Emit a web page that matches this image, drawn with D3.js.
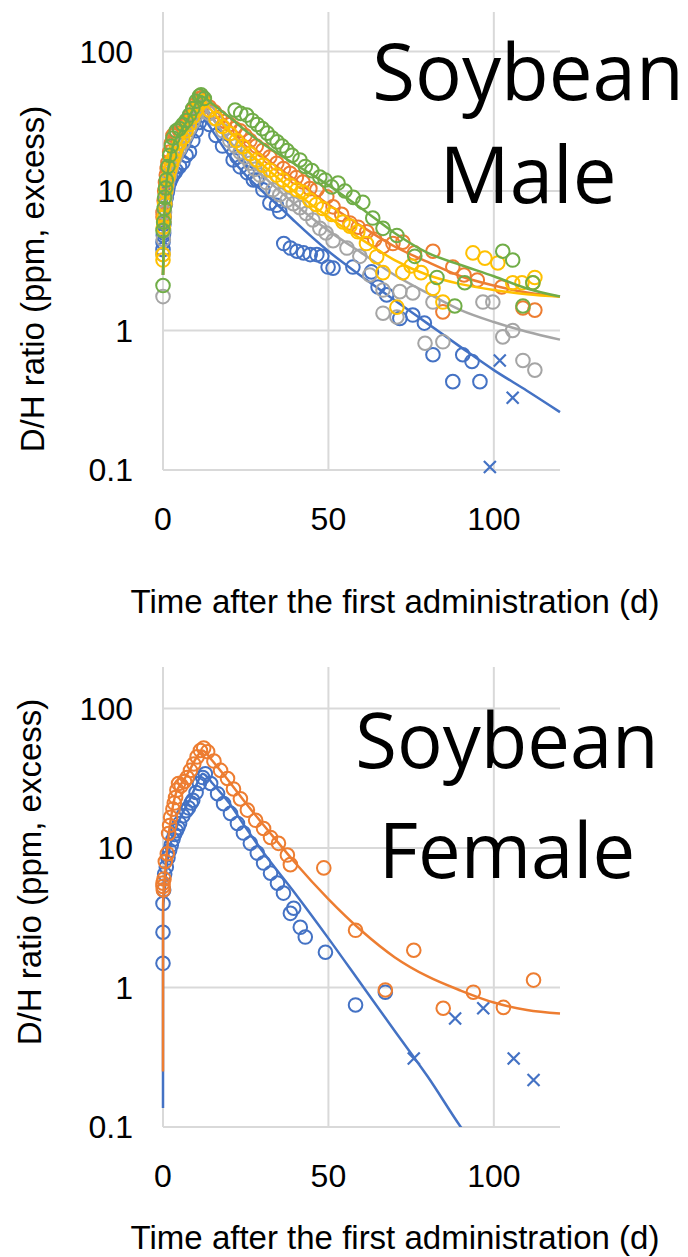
<!DOCTYPE html>
<html lang="en">
<head>
<meta charset="utf-8">
<title>D/H ratio after administration - Soybean</title>
<script src="https://d3js.org/d3.v7.min.js"></script>
<style>
  body { margin: 0; background: #fff; }
  .tick-label { font-family: "Liberation Sans", Arial, sans-serif; font-size: 32px; fill: #000; }
  .axis-title { font-family: "Liberation Sans", Arial, sans-serif; font-size: 33px; fill: #000; }
  .panel-title { font-family: "Open Sans", sans-serif; fill: #000; }
  .grid { stroke: #d9d9d9; stroke-width: 2; }
</style>
</head>
<body>
<div id="vis"></div>
<script>
// ---- data ----
const xTicks = [0, 50, 100];
const yTicks = [0.1, 1, 10, 100];
const xTitle = "Time after the first administration (d)";
const yTitle = "D/H ratio (ppm, excess)";

// Soybean, male: measured points [day, ppm]
const maleBluePoints = [[0,3.8],[0,4.3],[0.1,4.8],[0.2,5.0],[0.3,5.8],[0.4,6.5],[0.7,8],[1,9],[1.3,9.8],[1.5,10.5],[2,11.5],[2.5,12.3],[3,13],[3.5,13.5],[4,14],[5,15],[6,16],[7,18],[8,19],[9,23],[10,27],[11,31],[12,35],
  [14,30],[16,25],[18,21],[21.2,16.7],[22.4,17.5],[23.3,14.9],[25.5,13.5],[27.3,12],[28.4,12],[30.2,10.2],[32.3,8.2],[34.3,7.9],[35.3,7.1],
  [36.5,4.2],[38.5,3.9],[40.5,3.7],[42.5,3.6],[44.5,3.5],[46.5,3.5],[48,3.4],[49.9,2.85],[51.4,2.8],[57.4,2.85],[63,2.63],[65,2.05],[67.6,1.8],
  [71.6,1.22],[75.5,1.29],[79,1.13],[81.6,0.67],[87.6,0.43],[90.6,0.67],[93.4,0.6],[95.8,0.43]];
const maleBlueCrosses = [[98.8,0.105],[101.8,0.61],[105.7,0.33]];
const maleOrangePoints = [[0,6.5],[0,7],[0.2,6.8],[0.35,8.5],[0.5,10],[0.75,11.5],[1,13],[1.25,14.5],[1.5,16],[2,19],[2.5,22],[3,25],[3.5,25.5],[4,26],[5,27],[6,29],[7,31],[8,34],[9,38],[10,42],[11,46],[12,47],
  [14,40],[15.5,37],[17.2,33.8],[18.7,31.5],[20.2,30],[21.7,28],[23.3,27],[24.8,25],[26.3,23],[28.2,21],[30.2,19.6],[32.3,17.5],[34.4,15.8],[36.4,14.5],
  [38.4,13.4],[40.3,12.5],[42.3,11.6],[44.4,10.4],[46.5,10.2],[49.5,9.1],[51.4,7.7],[54,6.8],[56.5,5.9],[59,5.5],[61.6,5.1],[64,4.5],[66.5,4.0],
  [69.5,4.2],[72.5,4.3],[76,3.6],[81.6,3.7],[84.6,1.36],[87.6,2.85],[91,2.5],[95,2.3],[102.4,2.05],[108.8,1.45],[112.4,1.4]];
const maleGrayPoints = [[0,1.75],[0,3.5],[0.1,4.5],[0.2,5.2],[0.3,6],[0.45,7],[0.6,8],[0.8,9],[1,10],[1.25,11],[1.5,12],[2,13],[2.5,14.5],[3,16],[3.5,17],[4,18],[5,20],[6,22],[7,25],[8,28],[9,31],[10,35],[11,38],[12,40],
  [14,36],[15.7,33],[18.1,27],[20.2,23],[21.8,21],[23.3,19],[24.8,17.5],[26.3,15.8],[27.8,14.3],[29.3,13],[31.2,11.5],[33.2,10.2],[35.3,9.4],[37.5,8.6],
  [39.4,8.1],[41.4,7.6],[43.3,6.9],[45.3,6.2],[47.4,5.4],[49.3,5.0],[51.4,4.4],[55.6,3.9],[59.5,3.4],[62.5,2.5],[66.5,1.95],[66.5,1.33],[70.7,1.25],
  [71.6,1.9],[75.5,1.86],[79.2,0.81],[81.6,1.6],[84.6,0.83],[96.7,1.6],[99.7,1.6],[102.7,0.9],[105.7,1.0],[108.8,0.61],[112.4,0.52]];
const maleYellowPoints = [[0,3.2],[0,3.5],[0.1,5.5],[0.2,6],[0.3,6.5],[0.5,8],[0.8,10],[1,11],[1.5,12.5],[2,14],[2.5,15.5],[3,17],[3.5,18.5],[4,20],[5,22],[6,24],[7,27],[8,30],[9,34],[10,38],[11,42],[12,44],
  [14,38],[16,33],[18,29],[20.2,25.8],[22.2,23],[24.2,20.8],[26.3,18.5],[28.4,16.7],[30.3,15.3],[32.3,14.1],[34.3,13],[36.3,12],[38.4,11],[40.5,10.2],
  [42.3,9.8],[44.4,8.6],[46.3,8],[48.3,7.5],[51,6.8],[54.4,6.0],[56.5,5.6],[58.9,5.1],[61.5,4.2],[64.6,3.38],[66.5,2.6],[70.7,1.47],[72.5,2.6],[75,2.9],
  [78,2.6],[81.6,2.0],[84.6,1.6],[93.7,3.6],[97.3,3.3],[101.2,3.05],[105.7,2.2],[108.5,2.2],[111.8,2.2],[112.4,2.4]];
const maleGreenPoints = [[0,2.1],[0,5.2],[0.2,6],[0.35,7.5],[0.5,9],[0.75,10.5],[1,12],[1.5,15],[2,18],[2.5,21],[3,24],[4,27],[5,28],[6,30],[7,32],[8,35],[9,39],[10,44],[11,48],[11.5,49],[12.5,46],
  [21.8,38],[23.5,36],[25.3,35],[27,32],[28.5,30],[30,28],[31.5,26],[33,24],[34.5,22.5],[36,21],[37.5,19.5],[39,18],[41.4,16.7],[43,15],[45,14],
  [47.4,12.6],[49,12],[51,10.7],[52.9,11.4],[55,10],[57.5,9],[60.4,8.3],[63.4,6.4],[66.5,5.4],[70.7,4.8],[76.1,3.4],[82.8,2.4],[88.2,1.5],[91.2,2.2],
  [102.7,3.7],[105.7,3.2],[108.8,1.5],[111.8,2.2]];

// Soybean, male: fitted curves [day, ppm]
const maleBlueFit = [[0,2.5],[0.3,4],[1,8],[2,11],[3,13],[5,16],[7,19],[9,24],[11,30],[12,35],[13,32],[15,27],[20,18],[25,13],[30,10],[35,7.8],[40,6.0],
  [50,3.7],[60,2.45],[70,1.65],[80,1.12],[90,0.76],[100,0.52],[110,0.37],[120,0.26]];
const maleOrangeFit = [[0,2.5],[0.3,6],[1,12],[2,17],[3,21],[5,25],[7,29],[9,35],[11,43],[12,47],[13,45],[15,40],[20,30],[25,23],[30,18],[40,12],
  [50,8],[60,5.6],[70,4.0],[80,3.1],[90,2.45],[100,2.1],[110,1.87],[120,1.75]];
const maleGrayFit = [[0,2.5],[0.3,4.5],[1,9],[2,12.5],[3,15],[5,19],[7,23],[9,28],[11,35],[12,40],[13,38],[15,33],[20,23],[25,17],[30,13],[40,8],
  [50,5.2],[60,3.6],[70,2.5],[80,1.85],[90,1.4],[100,1.15],[110,0.98],[120,0.86]];
const maleYellowFit = [[0,2.5],[0.3,5],[1,10],[2,14],[3,17],[5,21],[7,26],[9,32],[11,39],[12,44],[13,42],[15,37],[20,27],[25,20],[30,15.5],[40,9.8],
  [50,6.5],[60,4.5],[70,3.2],[80,2.5],[90,2.15],[100,1.95],[110,1.82],[120,1.75]];
const maleGreenFit = [[0,2.5],[0.3,5.5],[1,11],[2,16],[3,21],[5,26],[7,31],[9,38],[11,47],[11.5,48],[13,46],[15,42],[20,34],[25,27],[30,22],[40,15.5],
  [50,11],[60,7.5],[70,5.0],[80,3.6],[90,2.95],[100,2.45],[110,2.0],[120,1.75]];

// Soybean, female
const femaleBluePoints = [[0,1.49],[0,2.49],[0,4.0],[0.2,5],[0.5,6.5],[1,7.3],[1.5,8.5],[2,9.6],[2.5,10.5],[3,11.5],[3.5,12.5],[4,13.3],[4.5,14],[5,15],[6,17],[7,18.5],[7.7,19.4],[8.5,21],[9,22],[10,25],[11,29],[12,32],[12.8,34],
  [14.4,29],[16.5,24.5],[18.3,20.8],[20.4,17.7],[22.5,15],[24.3,12.8],[26.4,10.8],[28.5,9.2],[30.4,7.8],[32.5,6.6],[34.6,5.6],[36.4,4.75],[38.5,3.4],
  [39.5,3.7],[41.5,2.7],[43,2.3],[49.1,1.79],[58.2,0.75],[67.2,0.925]];
const femaleBlueCrosses = [[75.8,0.31],[88.3,0.6],[96.8,0.71],[106,0.31],[112,0.217]];
const femaleOrangePoints = [[0,5.3],[0,5.6],[0.1,5],[0.3,6],[0.7,8],[1.3,9.1],[1.7,12.7],[2,14.5],[2.3,16.6],[3,19],[3.4,21],[3.8,23],[4.2,26],[4.7,29],[5.5,28],[6.5,30],[7.3,32],[8.3,36],[9.3,40],[10.3,45],[11.3,50],[12.3,52],[13.5,49],
  [15.4,42],[17.4,36],[19.5,31.5],[21.3,26.5],[23.4,22.5],[25.5,18.7],[28,15.8],[30.4,13.8],[32.5,11.9],[34.9,10.8],[37.6,8.9],[38.5,7.6],
  [48.6,7.2],[58.2,2.57],[67.2,0.96],[75.8,1.85],[84.7,0.71],[93.8,0.925],[102.9,0.72],[112,1.13]];
const femaleBlueFit = [[0,0.137],[0.02,3.5],[0.5,5],[1,7],[2,10],[4,14],[6,18],[8,22],[10,28],[12,34],[13,33],[15,29],[20,21],[25,14],[30,9.5],
  [40,4.7],[50,2.25],[60,1.05],[70,0.49],[80,0.23],[90,0.1],[95,0.068]];
const femaleOrangeFit = [[0,0.25],[0.02,4],[0.5,6],[1,8.5],[2,14],[3,20],[4,25],[6,30],[8,36],[10,44],[12,50],[13,48],[15,42],[20,30],[25,21],[30,15],
  [35,10.8],[40,7.8],[50,4.3],[60,2.55],[70,1.65],[80,1.2],[90,0.95],[100,0.78],[110,0.69],[120,0.65]];

// ---- drawing ----
const width = 688, height = 1257;
const colors = { blue: "#4472C4", orange: "#ED7D31", gray: "#A5A5A5", yellow: "#FFC000", green: "#70AD47" };

const svg = d3.select("#vis").append("svg")
  .attr("width", width).attr("height", height)
  .style("display", "block");

const panels = [
  { id: "male", axisY: 470, gridTop: 12, yTitleMid: 279, yTitleX: 44, xTitleY: 613,
    title: ["Soybean", "Male"], titleX: 528, titleY: [100, 203], titleSize: 78,
    series: [
      { color: colors.blue, points: maleBluePoints, fit: maleBlueFit, crosses: maleBlueCrosses },
      { color: colors.orange, points: maleOrangePoints, fit: maleOrangeFit },
      { color: colors.gray, points: maleGrayPoints, fit: maleGrayFit },
      { color: colors.yellow, points: maleYellowPoints, fit: maleYellowFit },
      { color: colors.green, points: maleGreenPoints, fit: maleGreenFit }
    ] },
  { id: "female", axisY: 1127, gridTop: 667, yTitleMid: 872, yTitleX: 41, xTitleY: 1249,
    title: ["Soybean", "Female"], titleX: 507, titleY: [768, 878], titleSize: 76,
    series: [
      { color: colors.blue, points: femaleBluePoints, fit: femaleBlueFit, crosses: femaleBlueCrosses },
      { color: colors.orange, points: femaleOrangePoints, fit: femaleOrangeFit }
    ] }
];

panels.forEach(p => {
  const xScale = d3.scaleLinear().domain([0, 120]).range([163, 560]);
  const yScale = d3.scaleLog().domain([0.1, 100]).range([p.axisY, p.axisY - 418.5]);
  const g = svg.append("g");

  // gridlines
  g.selectAll(".hgrid").data(yTicks).enter().append("line")
    .attr("class", "grid")
    .attr("x1", xScale(0)).attr("x2", xScale(120))
    .attr("y1", d => yScale(d)).attr("y2", d => yScale(d));
  g.selectAll(".vgrid").data(xTicks).enter().append("line")
    .attr("class", "grid")
    .attr("x1", d => xScale(d)).attr("x2", d => xScale(d))
    .attr("y1", p.gridTop).attr("y2", yScale(0.1));

  // tick labels
  g.selectAll(".ytick").data(yTicks).enter().append("text")
    .attr("class", "tick-label")
    .attr("x", 133).attr("y", d => yScale(d) + 11)
    .attr("text-anchor", "end")
    .text(d => d);
  g.selectAll(".xtick").data(xTicks).enter().append("text")
    .attr("class", "tick-label")
    .attr("x", d => xScale(d)).attr("y", p.axisY + 60)
    .attr("text-anchor", "middle")
    .text(d => d);

  // axis titles
  g.append("text")
    .attr("class", "axis-title")
    .attr("x", 395).attr("y", p.xTitleY)
    .attr("text-anchor", "middle")
    .text(xTitle);
  g.append("text")
    .attr("class", "axis-title")
    .attr("transform", "translate(" + p.yTitleX + "," + p.yTitleMid + ") rotate(-90)")
    .attr("text-anchor", "middle")
    .text(yTitle);

  // clip for fitted lines
  const clipId = "clip-" + p.id;
  svg.append("clipPath").attr("id", clipId).append("rect")
    .attr("x", xScale(0) - 2).attr("y", p.gridTop)
    .attr("width", xScale(120) - xScale(0) + 4).attr("height", yScale(0.1) - p.gridTop);

  const line = d3.line()
    .x(d => xScale(d[0]))
    .y(d => yScale(d[1]))
    .curve(d3.curveMonotoneX);

  p.series.forEach(s => {
    const sg = g.append("g");
    sg.selectAll("circle").data(s.points).enter().append("circle")
      .attr("cx", d => xScale(d[0]))
      .attr("cy", d => yScale(d[1]))
      .attr("r", 6.8)
      .attr("fill", "none")
      .attr("stroke", s.color)
      .attr("stroke-width", 2);
    if (s.crosses) {
      sg.selectAll(".cross").data(s.crosses).enter().append("path")
        .attr("transform", d => "translate(" + xScale(d[0]) + "," + yScale(d[1]) + ")")
        .attr("d", "M-6,-6L6,6M-6,6L6,-6")
        .attr("stroke", s.color)
        .attr("stroke-width", 2.2)
        .attr("fill", "none");
    }
    sg.append("path")
      .datum(s.fit)
      .attr("clip-path", "url(#" + clipId + ")")
      .attr("d", line)
      .attr("fill", "none")
      .attr("stroke", s.color)
      .attr("stroke-width", 2.5);
  });

  // big label
  g.selectAll(".ptitle").data(p.title).enter().append("text")
    .attr("class", "panel-title")
    .attr("x", p.titleX)
    .attr("y", (d, i) => p.titleY[i])
    .attr("text-anchor", "middle")
    .style("font-size", p.titleSize + "px")
    .text(d => d);
});
</script>
</body>
</html>
